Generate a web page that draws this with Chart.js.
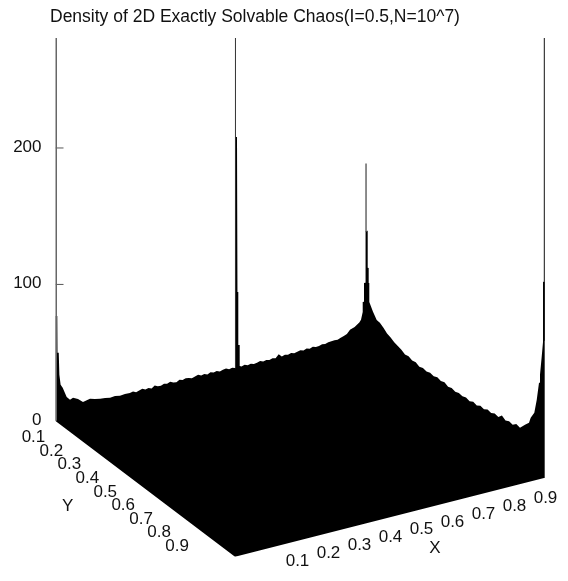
<!DOCTYPE html>
<html>
<head>
<meta charset="utf-8">
<style>
html, body { margin: 0; padding: 0; background: #fff; }
#wrap { width: 568px; height: 581px; }
</style>
<script src="https://cdn.jsdelivr.net/npm/chart.js@4/dist/chart.umd.min.js"></script>
</head>
<body>
<div id="wrap"><canvas id="myChart" width="568" height="581"></canvas></div>
<script>
const titleText = "Density of 2D Exactly Solvable Chaos(I=0.5,N=10^7)";
const zTicks = [0, 100, 200];
const xTicks = [0.1, 0.2, 0.3, 0.4, 0.5, 0.6, 0.7, 0.8, 0.9];
const yTicks = [0.1, 0.2, 0.3, 0.4, 0.5, 0.6, 0.7, 0.8, 0.9];

// density read along the far edge Y=0, X going left to right (includes the spike near X=0.58)
const backX = [0, 0.0058, 0.0065, 0.0105, 0.0125, 0.0165, 0.0232, 0.0361, 0.0468, 0.0565, 0.0726, 0.0887, 0.1113, 0.127, 0.144, 0.16, 0.176, 0.192, 0.208, 0.224, 0.24,
  0.25, 0.26, 0.27, 0.28, 0.29, 0.30, 0.31, 0.32, 0.33, 0.34, 0.35, 0.36, 0.37, 0.38, 0.39, 0.40, 0.41, 0.42, 0.43, 0.44, 0.45, 0.46, 0.47, 0.48, 0.49, 0.50, 0.51, 0.52, 0.53, 0.54, 0.55, 0.56, 0.57,
  0.579, 0.579, 0.5855, 0.5855, 0.5877, 0.5877, 0.5897, 0.5897, 0.5942, 0.5942,
  0.60, 0.61, 0.62, 0.63, 0.64, 0.65, 0.66, 0.67, 0.68, 0.69, 0.70, 0.71, 0.72, 0.73, 0.74, 0.75, 0.76, 0.77, 0.78, 0.79, 0.80, 0.81, 0.82, 0.83, 0.84, 0.85, 0.86, 0.87, 0.88, 0.89, 0.90, 0.91, 0.92, 0.93, 0.94, 0.95, 0.965, 0.98,
  0.9855, 0.991, 0.991, 0.9952, 0.9952, 0.9994, 0.9994];
const backZ = [76.9, 76.6, 49.5, 49.3, 33, 25.6, 22.9, 15.5, 12.7, 13.6, 11.9, 8.8, 9.7, 8.7, 7.8, 7.6, 6.7, 7.2, 6.3, 6.8, 6.6,
  7.1, 6.0, 6.6, 7.3, 6.2, 6.8, 5.8, 7.4, 6.3, 6.0, 6.9, 6.4, 7.2, 6.1, 5.7, 6.9, 6.2, 7.0, 6.6, 5.8, 6.4, 7.2, 6.0, 6.6, 5.7, 6.7, 6.0, 6.5, 5.6, 6.2, 6.6, 5.5, 5.9,
  5.3, 174.6, 174.2, 87, 86.9, 60.5, 60.4, 21.5, 21.3, 5.9,
  5.1, 5.9, 4.8, 5.4, 4.6, 5.0, 5.7, 4.7, 5.2, 4.6, 5.3, 4.8, 7.2, 4.9, 5.6, 5.1, 5.7, 4.9, 5.5, 6.0, 5.2, 6.1, 5.3, 6.3, 5.5, 5.6, 6.4, 5.9, 6.6, 6.8, 7.0, 6.8, 7.7, 8.4, 9.3, 11.7, 13, 15.4,
  17, 22.5, 29.8, 29.6, 43.5, 43.3, 54.3];

// density read along the right edge X=1, Y going from the far corner to the near one
const sideY = [0.001, 0.001, 0.0123, 0.0123, 0.0178, 0.0178, 0.0212, 0.0212, 0.0418, 0.0624, 0.08, 0.10, 0.12, 0.14, 0.16, 0.18, 0.20, 0.22, 0.24, 0.26, 0.28, 0.30, 0.32, 0.34, 0.36, 0.38, 0.40, 0.42, 0.44, 0.46, 0.48, 0.50, 0.52, 0.54, 0.56, 0.58, 0.60, 0.62, 0.64, 0.66, 0.68, 0.70, 0.72, 0.74, 0.76, 0.78, 0.80, 0.82, 0.84, 0.8607,
  0.8886, 0.9109, 0.9203, 0.9404, 0.9538, 0.9666, 0.9721, 0.9816, 0.9889, 0.9889, 0.9983, 0.9983];
const sideZ = [54.4, 81.4, 82.6, 55.5, 56, 45, 45.3, 31.4, 26.2, 22.3, 22, 20.4, 18.1, 17.2, 15.6, 15, 14.1, 12.6, 13.4, 12.2, 12.9, 11.7, 12.8, 12.2, 13.2, 12.7, 13.9, 13.1, 14.3, 13, 14, 13.2, 14.4, 13.9, 15, 14.2, 15.8, 15.1, 17, 16.4, 18.1, 17.6, 19.2, 18.7, 21.8, 20, 21.6, 20.9, 23.4, 22.8,
  27.8, 31.4, 36, 41.7, 52.5, 66.3, 72.7, 86.8, 98.5, 142.5, 143.4, 0];

// thin needles that rise out of the surface: [X, Y, density at the bottom, density at the top]
const needleLeftAxis = [0.0016, 0, 0, 280.6];
const needleMiddle = [0.5805, 0, 5, 247];
const needleCorner = [1, 0.003, 81, 131];
const needleRight = [1, 0.9961, 100, 322];

// view of the box: how many plot units X and Y move across and how far they rise
const acrossX = 310, acrossY = 179.5;
const riseX = 57.9, riseY = -99.6;

function project(X, Y, z) {
  return { x: acrossX * X + acrossY * Y, y: z + riseX * X + riseY * Y };
}

const surface = [project(0, 0, 0)]
  .concat(backX.map((X, i) => project(X, 0, backZ[i])))
  .concat(sideY.map((Y, i) => project(1, Y, sideZ[i])))
  .concat([project(1, 1, 0), project(0, 1, 0), project(0, 0, 0)]);

function needle(n) {
  return [project(n[0], n[1], n[2]), project(n[0], n[1], n[3])];
}

const ticksMarks = zTicks.slice(1).map(z => ({
  data: [{ x: 0, y: z }, { x: 8, y: z }],
  borderColor: '#555', borderWidth: 1, pointRadius: 0, fill: false
}));

const offAxisLabels = {
  id: 'offAxisLabels',
  // the y scale box is narrow so the title can start at the padding, its labels hang out to the left
  beforeDraw(chart) {
    chart.scales.y.left = 0;
  },
  afterDatasetsDraw(chart) {
    const ctx = chart.ctx, sx = chart.scales.x, sy = chart.scales.y;
    const put = (p, dx, dy, text) => {
      ctx.fillText(text, sx.getPixelForValue(p.x) + dx, sy.getPixelForValue(p.y) + dy);
    };
    ctx.save();
    ctx.font = '17px "Liberation Sans"';
    ctx.fillStyle = '#111';
    ctx.textAlign = 'center';
    ctx.textBaseline = 'middle';
    xTicks.forEach(X => put(project(X, 1, 0), 31.5, 12.5, X.toFixed(1)));
    yTicks.forEach(Y => put(project(0, Y, 0), -40, 3, Y.toFixed(1)));
    put(project(0.5, 1, 0), 45, 31, 'X');
    put(project(0, 0.6, 0), -95.5, 3.5, 'Y');
    ctx.restore();
  }
};

ctx = document.getElementById('myChart').getContext('2d');

window.s3Chart = new Chart(ctx, {
  type: 'line',
  data: {
    datasets: [
      { data: needle(needleLeftAxis), borderColor: '#666', borderWidth: 2, pointRadius: 0, fill: false },
      { data: needle(needleMiddle), borderColor: '#333', borderWidth: 1, pointRadius: 0, fill: false },
      { data: needle(needleCorner), borderColor: '#666', borderWidth: 1.5, pointRadius: 0, fill: false },
      { data: needle(needleRight), borderColor: '#111', borderWidth: 1, pointRadius: 0, fill: false },
      { data: surface, borderWidth: 0, borderColor: '#000', backgroundColor: '#000', pointRadius: 0, tension: 0, fill: 'shape' }
    ].concat(ticksMarks)
  },
  plugins: [offAxisLabels],
  options: {
    responsive: false,
    animation: false,
    layout: { padding: { left: 50, right: 23, top: 0, bottom: 24 } },
    plugins: {
      legend: { display: false },
      tooltip: { enabled: false },
      title: {
        display: true,
        text: titleText,
        align: 'start',
        color: '#111',
        font: { family: 'Liberation Sans', size: 17.5, weight: 'normal' },
        padding: { top: 6.5, bottom: 10.5 }
      }
    },
    scales: {
      x: { type: 'linear', display: false, min: 0, max: 489.5 },
      y: {
        type: 'linear',
        min: -99.6,
        max: 280.6,
        afterBuildTicks: axis => { axis.ticks = zTicks.map(v => ({ value: v })); },
        afterFit: axis => { axis.width = 5.5; },
        grid: { display: false, drawTicks: false },
        border: { display: false },
        ticks: {
          color: '#111',
          padding: 14,
          labelOffset: -1,
          font: { family: 'Liberation Sans', size: 17 },
          callback: v => String(v)
        }
      }
    }
  }
});
</script>
</body>
</html>
